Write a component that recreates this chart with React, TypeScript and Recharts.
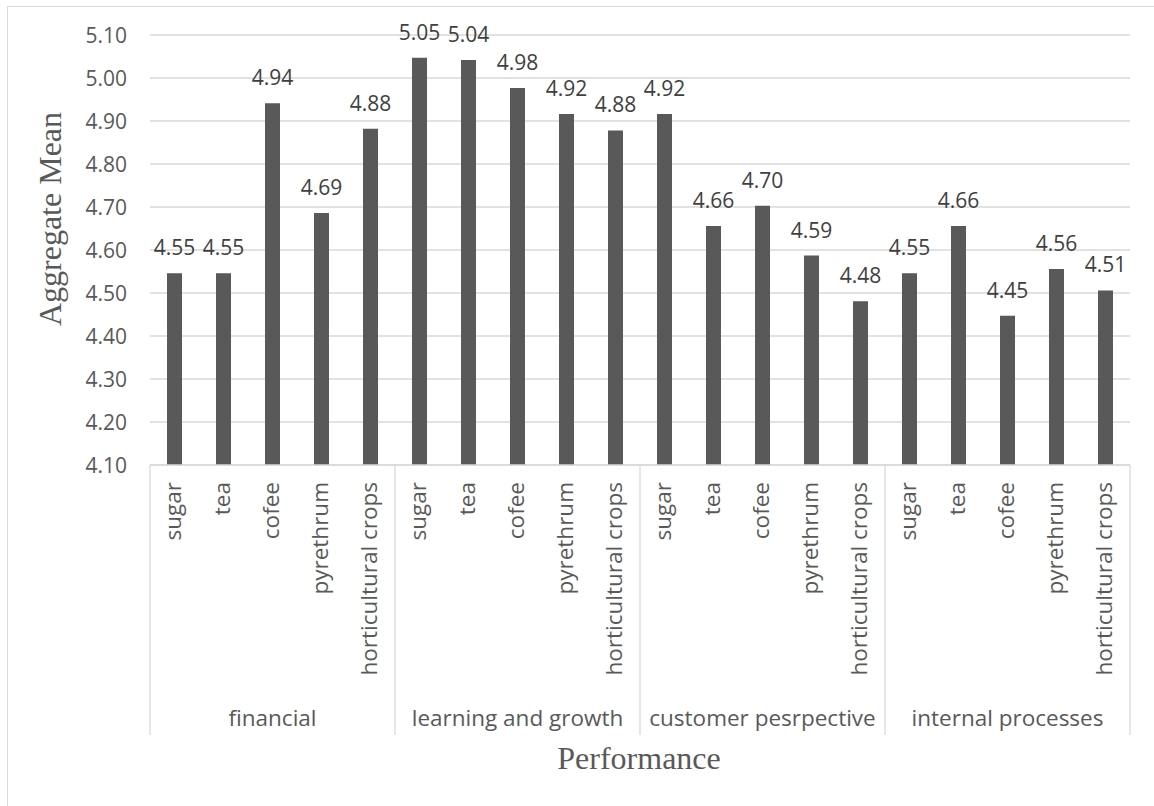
import React from "react";
import { BarChart, Bar, XAxis, YAxis, CartesianGrid, LabelList } from "recharts";

const crops = ["sugar", "tea", "cofee", "pyrethrum", "horticultural crops"];
const groups = ["financial", "learning and growth", "customer pesrpective", "internal processes"];
const financial = [4.546, 4.546, 4.941, 4.686, 4.882];
const learningGrowth = [5.047, 5.042, 4.977, 4.916, 4.878];
const customer = [4.916, 4.656, 4.703, 4.587, 4.481];
const internalProc = [4.546, 4.656, 4.447, 4.556, 4.506];
const yTicks = [4.1, 4.2, 4.3, 4.4, 4.5, 4.6, 4.7, 4.8, 4.9, 5.0, 5.1];

const seriesByGroup = [financial, learningGrowth, customer, internalProc];
const rows = groups.flatMap((g, gi) =>
  crops.map((c, ci) => ({ key: `${gi}-${ci}`, crop: c, group: g, value: seriesByGroup[gi][ci] }))
);

const W = 1154;
const H = 806;
const M = { top: 35, right: 24, left: 0, bottom: 0 };
const Y_AXIS_W = 150;
const PLOT_W = W - M.left - M.right - Y_AXIS_W;
const TEXT = "#595959";
const GRID = "#d9d9d9";
const SANS = "'Open Sans', 'Noto Sans', sans-serif";
const SERIF = "'Liberation Serif', 'DejaVu Serif', serif";

const CropTick = (props: any) => {
  const { x, y, index } = props;
  const half = props.payload && props.payload.offset ? props.payload.offset : PLOT_W / rows.length / 2;
  const row = rows[index];
  const per = crops.length;
  const pos = index % per;
  return (
    <g>
      <text
        x={x}
        y={y + 17}
        transform={`rotate(-90, ${x}, ${y + 17})`}
        textAnchor="end"
        dy="0.27em"
        fill={TEXT}
        fontSize={22.5}
        fontFamily={SANS}
      >
        {row ? row.crop : ""}
      </text>
      {pos === 0 && <line x1={x - half} x2={x - half} y1={y} y2={y + 270} stroke={GRID} strokeWidth={1.3} />}
      {index === rows.length - 1 && (
        <line x1={x + half} x2={x + half} y1={y} y2={y + 270} stroke={GRID} strokeWidth={1.3} />
      )}
      {pos === Math.floor(per / 2) && (
        <text x={x} y={y + 261} textAnchor="middle" fill={TEXT} fontSize={22.5} fontFamily={SANS}>
          {row ? row.group : ""}
        </text>
      )}
    </g>
  );
};

const YTick = (props: any) => {
  const { y, payload } = props;
  return (
    <text x={127} y={y} dy="0.36em" textAnchor="end" fill={TEXT} fontSize={21} fontFamily={SANS}>
      {Number(payload.value).toFixed(2)}
    </text>
  );
};

export default function App() {
  return (
    <div style={{ position: "absolute", left: 0, top: 0, width: W, height: H, background: "#fff", overflow: "hidden" }}>
      <div
        style={{
          position: "absolute",
          left: 7,
          top: 6,
          width: W,
          height: H,
          borderLeft: `1.5px solid ${GRID}`,
          borderTop: `1.5px solid ${GRID}`,
          boxSizing: "border-box",
        }}
      />
      <div style={{ position: "absolute", left: 0, top: 0 }}>
        <BarChart width={W} height={H} data={rows} margin={M} barCategoryGap={0}>
          <CartesianGrid horizontal={true} vertical={false} stroke={GRID} strokeWidth={1.3} />
          <XAxis
            dataKey="key"
            type="category"
            height={H - 465}
            interval={0}
            tickLine={false}
            tickSize={0}
            tickMargin={0}
            axisLine={{ stroke: GRID, strokeWidth: 1.3 }}
            tick={<CropTick />}
          />
          <YAxis
            type="number"
            domain={[4.1, 5.1]}
            ticks={yTicks}
            width={Y_AXIS_W}
            axisLine={false}
            tickLine={false}
            interval={0}
            tick={<YTick />}
          />
          <Bar dataKey="value" fill="#595959" barSize={15} isAnimationActive={false}>
            <LabelList
              dataKey="value"
              position="top"
              offset={18}
              formatter={(v: any) => Number(v).toFixed(2)}
              fill="#404040"
              fontSize={21}
              fontFamily={SANS}
            />
          </Bar>
        </BarChart>
      </div>
      <svg width={W} height={H} style={{ position: "absolute", left: 0, top: 0, pointerEvents: "none" }}>
        <text
          x={61}
          y={219}
          transform="rotate(-90, 61, 219)"
          textAnchor="middle"
          fill={TEXT}
          fontSize={32}
          fontFamily={SERIF}
        >
          Aggregate Mean
        </text>
        <text x={639} y={769} textAnchor="middle" fill={TEXT} fontSize={32} fontFamily={SERIF}>
          Performance
        </text>
      </svg>
    </div>
  );
}
